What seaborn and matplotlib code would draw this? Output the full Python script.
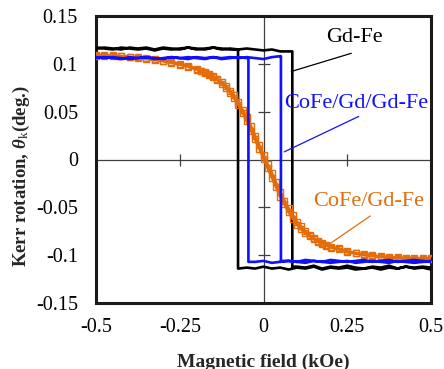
import matplotlib
matplotlib.use("Agg")
import matplotlib.pyplot as plt
import seaborn as sns
import numpy as np

# ---------------- data ----------------
field = [-0.5, -0.475, -0.45, -0.425, -0.4, -0.375, -0.35, -0.325, -0.3, -0.275,
         -0.25, -0.225, -0.2, -0.175, -0.15, -0.125, -0.1, -0.075, -0.05, -0.025,
         0.0, 0.025, 0.05, 0.075, 0.1, 0.125, 0.15, 0.175, 0.2, 0.225,
         0.25, 0.275, 0.3, 0.325, 0.35, 0.375, 0.4, 0.425, 0.45, 0.475, 0.5]

# Gd-Fe (black): increasing-field sweep and decreasing-field sweep
gdfe_up = [0.117, 0.116, 0.115, 0.117, 0.116, 0.115, 0.116, 0.114, 0.116, 0.115,
           0.116, 0.117, 0.115, 0.116, 0.117, 0.115, 0.116, 0.115, 0.116, 0.115,
           0.114, 0.115, 0.113, 0.113,
           -0.112, -0.113, -0.111, -0.114, -0.112, -0.113, -0.111, -0.113, -0.114,
           -0.112, -0.113, -0.111, -0.114, -0.112, -0.113, -0.112, -0.113]
gdfe_down = [0.116, 0.117, 0.116, 0.115, 0.117, 0.116, 0.117, 0.115, 0.117, 0.116,
             0.115, 0.117, 0.116, 0.115, 0.117, 0.116, 0.115,
             -0.114, -0.113, -0.114, -0.112, -0.114, -0.113, -0.115, -0.113, -0.114,
             -0.112, -0.115, -0.113, -0.114, -0.113, -0.115, -0.114, -0.113, -0.115,
             -0.113, -0.114, -0.112, -0.114, -0.113, -0.115]
gdfe_hc_up = 0.086
gdfe_hc_down = -0.076

# CoFe/Gd/Gd-Fe (blue)
cgg_up = [0.106, 0.107, 0.106, 0.105, 0.107, 0.106, 0.107, 0.106, 0.105, 0.107,
          0.106, 0.107, 0.106, 0.105, 0.107, 0.106, 0.107, 0.106, 0.107, 0.106,
          0.105, 0.107, 0.108,
          -0.106, -0.107, -0.105, -0.106, -0.107, -0.105, -0.106, -0.107, -0.106,
          -0.105, -0.107, -0.106, -0.105, -0.107, -0.106, -0.105, -0.106, -0.107]
cgg_down = [0.107, 0.106, 0.107, 0.106, 0.105, 0.106, 0.107, 0.105, 0.106, 0.107,
            0.106, 0.105, 0.107, 0.106, 0.107, 0.105, 0.106, 0.107, 0.106,
            -0.107, -0.106, -0.108, -0.107, -0.106, -0.107, -0.108, -0.106, -0.107,
            -0.108, -0.107, -0.106, -0.108, -0.107, -0.106, -0.107, -0.108, -0.106,
            -0.107, -0.108, -0.107, -0.106]
cgg_hc_up = 0.052
cgg_hc_down = -0.045

# CoFe/Gd-Fe (orange)
field_o = [-0.5, -0.475, -0.45, -0.425, -0.4, -0.375, -0.35, -0.325, -0.3, -0.275,
           -0.25, -0.225,
           -0.2, -0.1875, -0.175, -0.1625, -0.15, -0.1375, -0.125, -0.1125, -0.1,
           -0.0875, -0.075, -0.0625, -0.05, -0.0375, -0.025, -0.0125, 0.0, 0.0125,
           0.025, 0.0375, 0.05, 0.0625, 0.075, 0.0875, 0.1, 0.1125, 0.125, 0.1375,
           0.15, 0.1625, 0.175, 0.1875, 0.2,
           0.225, 0.25, 0.275, 0.3, 0.325, 0.35, 0.375, 0.4, 0.425, 0.45, 0.475, 0.5]
cg_up = [0.109, 0.108, 0.109, 0.108, 0.107, 0.107, 0.105, 0.104, 0.103, 0.101,
         0.099, 0.097,
         0.094, 0.092, 0.090, 0.088, 0.086, 0.083, 0.079, 0.075, 0.070,
         0.064, 0.057, 0.049, 0.040, 0.030, 0.021, 0.011, 0.001, -0.009,
         -0.019, -0.029, -0.039, -0.047, -0.055, -0.062, -0.068, -0.073, -0.077, -0.080,
         -0.083, -0.086, -0.088, -0.090, -0.092,
         -0.094, -0.097, -0.098, -0.100, -0.101, -0.101, -0.103, -0.102, -0.104, -0.103,
         -0.104, -0.103]
cg_down = [0.108, 0.109, 0.108, 0.108, 0.107, 0.106, 0.106, 0.105, 0.103, 0.102,
           0.100, 0.098,
           0.095, 0.093, 0.091, 0.089, 0.087, 0.084, 0.081, 0.077, 0.072,
           0.067, 0.060, 0.052, 0.044, 0.035, 0.025, 0.015, 0.005, -0.005,
           -0.014, -0.024, -0.034, -0.043, -0.051, -0.058, -0.065, -0.070, -0.075, -0.079,
           -0.082, -0.085, -0.087, -0.089, -0.091,
           -0.093, -0.096, -0.098, -0.099, -0.100, -0.102, -0.102, -0.103, -0.103,
           -0.104, -0.103, -0.104]

xticks = [-0.5, -0.25, 0, 0.25, 0.5]
xtick_labels = ["-0.5", "-0.25", "0", "0.25", "0.5"]
yticks = [-0.15, -0.1, -0.05, 0, 0.05, 0.1, 0.15]
ytick_labels = ["-0.15", "-0.1", "-0.05", "0", "0.05", "0.1", "0.15"]
xcross_ticks = [-0.25, 0.25]
ycross_ticks = [-0.1, -0.05, 0.05, 0.1]

BLACK = "#000000"
BLUE = "#1010ff"
ORANGE = "#e46c0a"


def loop_path(x, y_up, hc_up, y_down, hc_down):
    x = np.asarray(x); y_up = np.asarray(y_up); y_down = np.asarray(y_down)
    a = x < hc_up
    px = list(x[a]) + [hc_up, hc_up] + list(x[~a])
    py = list(y_up[a]) + [y_up[a][-1], y_up[~a][0]] + list(y_up[~a])
    b = x >= hc_down
    xb, yb = x[b][::-1], y_down[b][::-1]
    xa, ya = x[~b][::-1], y_down[~b][::-1]
    px += list(xb) + [hc_down, hc_down] + list(xa)
    py += list(yb) + [yb[-1], ya[0]] + list(ya)
    return px, py


# ---------------- figure ----------------
sns.set_theme(style="white")
plt.rcParams["font.family"] = ["Liberation Serif", "DejaVu Serif"]
plt.rcParams["mathtext.fontset"] = "custom"
plt.rcParams["mathtext.rm"] = "Liberation Serif"
plt.rcParams["mathtext.it"] = "Liberation Serif:italic"
plt.rcParams["mathtext.bf"] = "Liberation Serif:italic:bold"

fig = plt.figure(figsize=(4.44, 3.69), dpi=100)
ax = fig.add_axes([96 / 444, 1 - 303 / 369, 335 / 444, 287 / 369])

# zero lines with cross ticks
ax.axhline(0, color="#404040", lw=0.9, zorder=1)
ax.axvline(0, color="#404040", lw=0.9, zorder=1)
ax.plot(xcross_ticks, [0] * len(xcross_ticks), ls="none", marker="|", ms=8,
        mew=0.9, color="#404040", zorder=1)
ax.plot([0] * len(ycross_ticks), ycross_ticks, ls="none", marker="_", ms=8,
        mew=0.9, color="#404040", zorder=1)

bx, by = loop_path(field, gdfe_up, gdfe_hc_up, gdfe_down, gdfe_hc_down)
sns.lineplot(x=bx, y=by, sort=False, estimator=None, color=BLACK, lw=1.9, ax=ax,
             zorder=3)

ox = list(field_o) + list(field_o[::-1])
oy = list(cg_up) + list(cg_down[::-1])
sns.lineplot(x=ox, y=oy, sort=False, estimator=None, color=ORANGE, lw=1.9,
             marker="s", markersize=3.8, markerfacecolor="none",
             markeredgecolor=ORANGE, markeredgewidth=1.0, ax=ax, zorder=4)

cx, cy = loop_path(field, cgg_up, cgg_hc_up, cgg_down, cgg_hc_down)
sns.lineplot(x=cx, y=cy, sort=False, estimator=None, color=BLUE, lw=1.9, ax=ax,
             zorder=5)

# labels with leader lines
fa = 16
ax.text(0.272, 0.128, "Gd-Fe", color=BLACK, fontsize=fa, ha="center", va="center")
ax.plot([0.083, 0.262], [0.092, 0.111], color=BLACK, lw=0.9, zorder=6)
ax.text(0.278, 0.059, "CoFe/Gd/Gd-Fe", color=BLUE, fontsize=fa, ha="center",
        va="center")
ax.plot([0.062, 0.284], [0.008, 0.045], color=BLUE, lw=0.9, zorder=6)
ax.text(0.314, -0.044, "CoFe/Gd-Fe", color=ORANGE, fontsize=fa, ha="center",
        va="center")
ax.plot([0.194, 0.319], [-0.089, -0.059], color=ORANGE, lw=0.9, zorder=6)

ax.set_xlim(-0.5, 0.5)
ax.set_ylim(-0.15, 0.15)
ax.set_xticks(xticks)
ax.set_xticklabels(xtick_labels)
ax.set_yticks(yticks)
ax.set_yticklabels(ytick_labels)
ax.tick_params(axis="both", length=0, labelsize=14.5, colors="black")
ax.tick_params(axis="x", pad=11)
ax.tick_params(axis="y", pad=13)

ax.set_xlabel("Magnetic field (kOe)", fontsize=14, fontweight="bold")
ax.set_ylabel(r"Kerr rotation, $\mathbf{\theta}_\mathrm{k}$(deg.)", fontsize=13.5,
              fontweight="bold")
ax.xaxis.set_label_coords(0.5, -0.175)
ax.yaxis.set_label_coords(-0.19, 0.44)

for s in ax.spines.values():
    s.set_visible(True)
    s.set_color("#1a1a1a")
    s.set_linewidth(2.2)
ax.set_facecolor("white")
ax.grid(False)

fig.savefig("out.png", dpi=100, facecolor="white")
